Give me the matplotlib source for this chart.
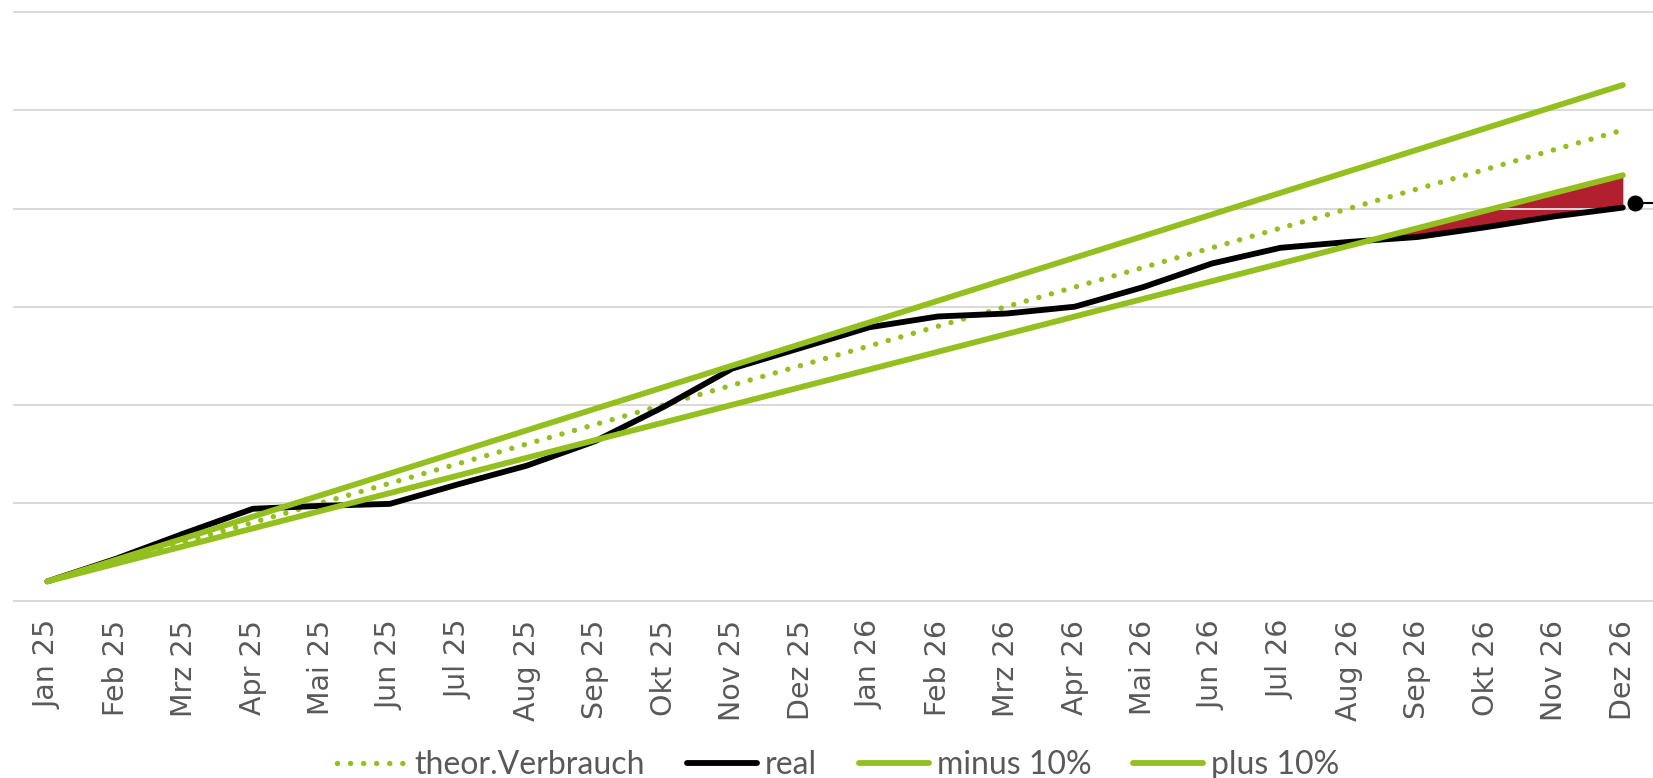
import matplotlib
matplotlib.use("Agg")
import matplotlib.pyplot as plt
import numpy as np

months = ["Jan 25", "Feb 25", "Mrz 25", "Apr 25", "Mai 25", "Jun 25", "Jul 25", "Aug 25",
          "Sep 25", "Okt 25", "Nov 25", "Dez 25", "Jan 26", "Feb 26", "Mrz 26", "Apr 26",
          "Mai 26", "Jun 26", "Jul 26", "Aug 26", "Sep 26", "Okt 26", "Nov 26", "Dez 26"]
theor = [20, 40, 60, 80, 100, 120, 140, 160, 180, 200, 220, 240,
         260, 280, 300, 320, 340, 360, 380, 400, 420, 440, 460, 480]
minus10 = [20, 38, 56, 74, 92, 110, 128, 146, 164, 182, 200, 218,
           236, 254, 272, 290, 308, 326, 344, 362, 380, 398, 416, 434]
plus10 = [20, 42, 64, 86, 108, 130, 152, 174, 196, 218, 240, 262,
          284, 306, 328, 350, 372, 394, 416, 438, 460, 482, 504, 526]
real = [20, 43, 69, 94, 97, 99, 119, 138, 163, 198, 237, 258,
        279, 290, 293, 300, 320, 344, 360, 366, 371, 381, 392, 401]
fill_from = 19  # shading of the shortfall starts in Aug 26
marker_x = [23.18]
marker_y = [406]

GREEN = "#93C01F"
RED = "#B2202F"
GRAY = "#595959"
GRID = "#D9D9D9"

W, H = 1653, 778
fig = plt.figure(figsize=(W / 100, H / 100), dpi=100)
left = 12.6 / W
bottom = (H - 606) / H
top = (H - 5) / H
ax = fig.add_axes([left, bottom, 1 - left, top - bottom])

x = np.arange(len(months))
xmin, xmax = -0.508, 23.44
ax.set_xlim(xmin, xmax)
ax.set_ylim(-5.1, 607.5)

r = np.array(real)
m = np.array(minus10)
sel = x >= fill_from
ax.fill_between(x[sel], r[sel], m[sel], where=m[sel] > r[sel],
                interpolate=True, color=RED, linewidth=0, zorder=0.3)

l_theo, = ax.plot(x, theor, color=GREEN, lw=3.9, linestyle=(0, (0.01, 2.4)),
                  dash_capstyle="round", solid_capstyle="round", zorder=3,
                  label="theor.Verbrauch")
l_real, = ax.plot(x, real, color="black", lw=4.2, solid_capstyle="round",
                  solid_joinstyle="round", zorder=4, label="real")
l_minus, = ax.plot(x, minus10, color=GREEN, lw=4.2, solid_capstyle="round",
                   zorder=5, label="minus 10%")
l_plus, = ax.plot(x, plus10, color=GREEN, lw=4.2, solid_capstyle="round",
                  zorder=5, label="plus 10%")

ax.plot([marker_x[0], xmax], [marker_y[0], marker_y[0]], color="black", lw=1.5,
        zorder=6, clip_on=False)
ax.plot(marker_x, marker_y, "o", color="black", markersize=10.5, zorder=7,
        clip_on=False)

ax.set_yticks(range(0, 700, 100))
ax.set_yticklabels([])
ax.yaxis.grid(True, color=GRID, lw=1.4)
ax.set_axisbelow(True)
ax.tick_params(axis="y", length=0)

ax.set_xticks(x)
ax.set_xticklabels(months, rotation=90, fontsize=20.5, color=GRAY, family="DejaVu Sans")
ax.tick_params(axis="x", length=0, pad=10)

for s in ax.spines.values():
    s.set_visible(False)

leg = fig.legend(handles=[l_theo, l_real, l_minus, l_plus], loc="center",
                 bbox_to_anchor=(0.507, 0.0167), ncol=4, frameon=False,
                 prop={"family": ["Lato", "DejaVu Sans"], "size": 23},
                 handlelength=2.2, handletextpad=0.25, columnspacing=1.3,
                 borderaxespad=0, borderpad=0)
for t in leg.get_texts():
    t.set_color(GRAY)

fig.savefig("out.png", dpi=100)
